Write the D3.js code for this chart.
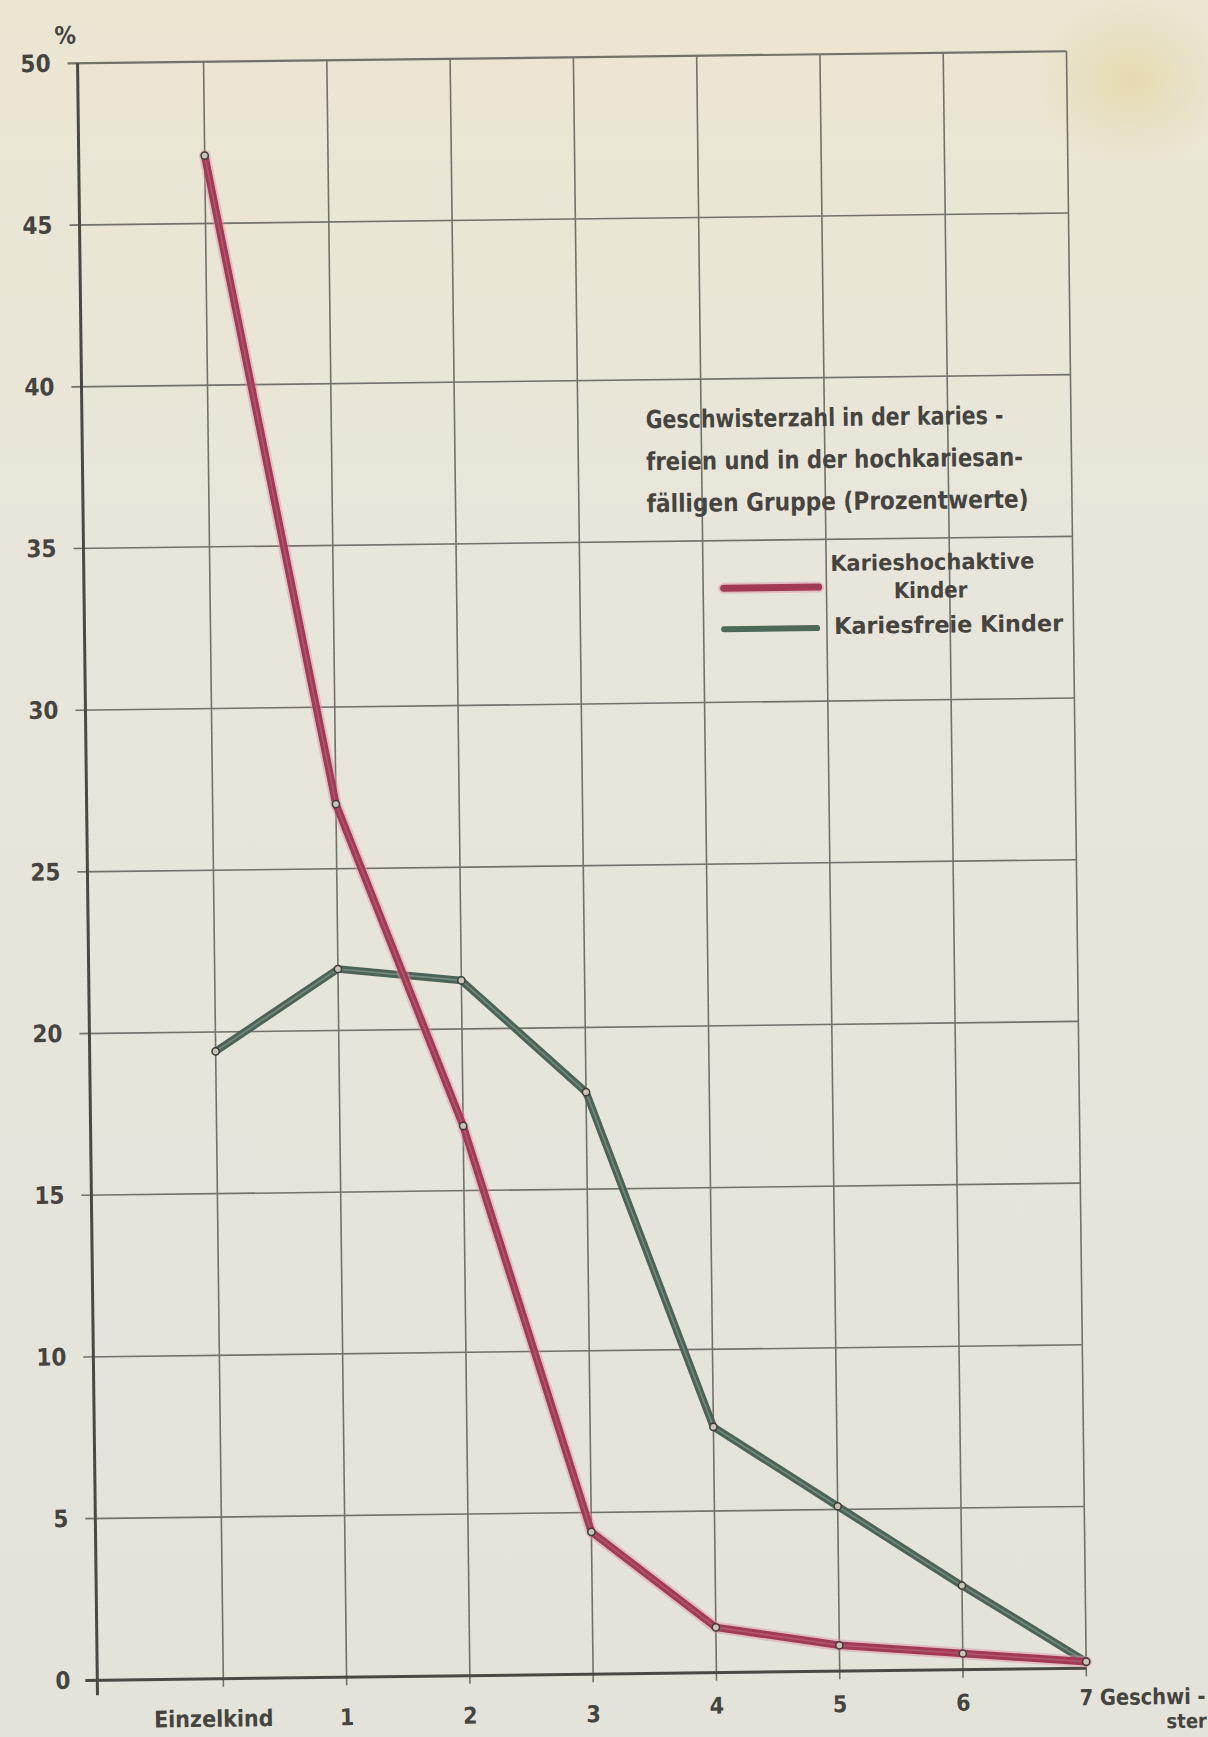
<!DOCTYPE html>
<html lang="de">
<head>
<meta charset="utf-8">
<title>Geschwisterzahl und Kariesbefall</title>
<script src="https://cdn.jsdelivr.net/npm/d3@7"></script>
<style>
  html, body { margin: 0; padding: 0; background: #e5e3d8; }
  svg { display: block; }
  .lbl { font-family: "DejaVu Sans Condensed", "DejaVu Sans", sans-serif; font-stretch: condensed; font-weight: bold; fill: #45443f; }
</style>
</head>
<body>
<svg id="chart" width="1208" height="1737"></svg>
<script>
// Categories: number of siblings
const categories = ["Einzelkind", "1", "2", "3", "4", "5", "6", "7"];
const xTickLabels = ["Einzelkind", "1", "2", "3", "4", "5", "6", "7 Geschwi -"];
const xUnitTail = "ster";

// Percentages per group
const kariesHochaktiv = [47.1, 27.0, 17.0, 4.4, 1.4, 0.8, 0.5, 0.2];
const kariesFrei      = [19.4, 21.9, 21.5, 18.0, 7.6, 5.1, 2.6, 0.2];

// Value axis ticks
const yTicks = [0, 5, 10, 15, 20, 25, 30, 35, 40, 45, 50];

const titleLines = [
  "Geschwisterzahl in der karies -",
  "freien und in der hochkariesan-",
  "fälligen Gruppe (Prozentwerte)"
];
const seriesNames = ["Karieshochaktive", "Kinder", "Kariesfreie Kinder"];

const W = 1208, H = 1737;
const L = 87.4, R = 1076.4, T = 57.25, B = 1674.25;
const cx = (L + R) / 2, cy = (T + B) / 2;

const svg = d3.select("#chart").attr("viewBox", `0 0 ${W} ${H}`);

// paper background
const defs = svg.append("defs");
const lg = defs.append("linearGradient").attr("id", "paper").attr("x1", 0).attr("y1", 0).attr("x2", 0).attr("y2", 1);
lg.append("stop").attr("offset", "0%").attr("stop-color", "#ebe6d2");
lg.append("stop").attr("offset", "30%").attr("stop-color", "#e8e6da");
lg.append("stop").attr("offset", "100%").attr("stop-color", "#e3e3da");
const stain = defs.append("radialGradient").attr("id", "stain");
stain.append("stop").attr("offset", "0%").attr("stop-color", "#e4d6a6").attr("stop-opacity", 0.75);
stain.append("stop").attr("offset", "100%").attr("stop-color", "#e4d6a6").attr("stop-opacity", 0);

svg.append("rect").attr("width", W).attr("height", H).attr("fill", "url(#paper)");
svg.append("ellipse").attr("cx", 1130).attr("cy", 80).attr("rx", 100).attr("ry", 85).attr("fill", "url(#stain)");

// the sheet sits slightly tilted
const g = svg.append("g").attr("transform", `rotate(-0.7 ${cx} ${cy})`);

const x = d3.scalePoint().domain(categories).range([L + 126, R]);
const y = d3.scaleLinear().domain([0, 50]).range([B, T]);

const gridColor = "#72716a";

// horizontal grid lines (with short ticks left of the axis)
g.append("g").selectAll("line").data(yTicks.filter(d => d > 0)).join("line")
  .attr("x1", L - 10).attr("x2", R)
  .attr("y1", d => y(d)).attr("y2", d => y(d))
  .attr("stroke", gridColor)
  .attr("stroke-width", d => d === 50 ? 2.2 : 1.6);

// vertical grid lines at each category, reaching below the base line
g.append("g").selectAll("line").data(categories).join("line")
  .attr("x1", d => x(d)).attr("x2", d => x(d))
  .attr("y1", y(50)).attr("y2", y(0) + 8)
  .attr("stroke", gridColor)
  .attr("stroke-width", 1.6);

// main axes
g.append("line").attr("x1", L).attr("x2", L).attr("y1", y(50)).attr("y2", y(0) + 15)
  .attr("stroke", "#4a4944").attr("stroke-width", 3);
g.append("line").attr("x1", L - 12).attr("x2", R).attr("y1", y(0)).attr("y2", y(0))
  .attr("stroke", "#4a4944").attr("stroke-width", 3);

// y axis labels
const yAxis = g.append("g").attr("transform", `translate(${L},0)`)
  .call(d3.axisLeft(y).tickValues(yTicks).tickSize(0).tickPadding(27).tickFormat(d3.format("d")));
yAxis.select(".domain").remove();
yAxis.attr("font-family", null).attr("font-size", null);
yAxis.selectAll("text").attr("class", "lbl").attr("font-size", 24).attr("fill", null);

g.append("text").attr("class", "lbl").attr("x", L - 12).attr("y", y(50) - 20)
  .attr("text-anchor", "middle").attr("font-size", 24).text("%");

// x axis labels
const last = categories.length - 1;
g.append("g").selectAll("text").data(categories).join("text")
  .attr("class", "lbl")
  .attr("x", (d, i) => i === 0 ? x(d) - 10 : (i === last ? x(d) - 7 : x(d)))
  .attr("y", (d, i) => y(0) + (i < 4 ? 48 : (i === last ? 37 : 41)))
  .attr("text-anchor", (d, i) => i === last ? "start" : "middle")
  .attr("font-size", (d, i) => i === last ? 22 : 23)
  .each(function (d, i) {
    if (i === last) d3.select(this).attr("textLength", 126).attr("lengthAdjust", "spacingAndGlyphs");
  })
  .text((d, i) => xTickLabels[i]);
g.append("text").attr("class", "lbl")
  .attr("x", x(categories[last]) + 120).attr("y", y(0) + 61)
  .attr("text-anchor", "end").attr("font-size", 20).text(xUnitTail);

// series lines
const line = d3.line().x((d, i) => x(categories[i])).y(d => y(d));

function drawSeries(values, o) {
  const s = g.append("g");
  if (o.halo) s.append("path").datum(values).attr("d", line).attr("fill", "none")
    .attr("stroke", o.halo).attr("stroke-width", o.width + 4).attr("stroke-opacity", 0.45)
    .attr("stroke-linejoin", "round").attr("stroke-linecap", "round");
  s.append("path").datum(values).attr("d", line).attr("fill", "none")
    .attr("stroke", o.color).attr("stroke-width", o.width)
    .attr("stroke-linejoin", "round").attr("stroke-linecap", "round");
  s.append("path").datum(values).attr("d", line).attr("fill", "none")
    .attr("stroke", o.inner).attr("stroke-width", 1.6).attr("stroke-opacity", 0.5)
    .attr("stroke-linejoin", "round");
  s.selectAll("circle").data(values).join("circle")
    .attr("cx", (d, i) => x(categories[i])).attr("cy", d => y(d))
    .attr("r", 3.6).attr("fill", "#c9c4b6").attr("stroke", "#3e3b38").attr("stroke-width", 1.5);
}

drawSeries(kariesFrei, { color: "#4b6457", inner: "#9fb0a4", width: 7.5 });
drawSeries(kariesHochaktiv, { color: "#a03a55", inner: "#c86f86", halo: "#d98fa2", width: 7.5 });

// title block
g.append("g").selectAll("text").data(titleLines).join("text")
  .attr("class", "lbl")
  .attr("x", 651).attr("y", (d, i) => 429 + i * 42)
  .attr("font-size", 25)
  .attr("textLength", (d, i) => [358, 377, 382][i])
  .attr("lengthAdjust", "spacingAndGlyphs")
  .text(d => d);

// legend
g.append("line").attr("x1", 727).attr("x2", 822).attr("y1", 590).attr("y2", 590)
  .attr("stroke", "#d98fa2").attr("stroke-width", 11).attr("stroke-opacity", 0.45).attr("stroke-linecap", "round");
g.append("line").attr("x1", 727).attr("x2", 822).attr("y1", 590).attr("y2", 590)
  .attr("stroke", "#a03a55").attr("stroke-width", 7).attr("stroke-linecap", "round");
g.append("line").attr("x1", 727).attr("x2", 820).attr("y1", 631).attr("y2", 631)
  .attr("stroke", "#4d6a58").attr("stroke-width", 6).attr("stroke-linecap", "round");

g.append("text").attr("class", "lbl").attr("x", 834).attr("y", 574).attr("font-size", 22)
  .attr("textLength", 204).attr("lengthAdjust", "spacingAndGlyphs").text(seriesNames[0]);
g.append("text").attr("class", "lbl").attr("x", 934).attr("y", 602).attr("font-size", 22)
  .attr("text-anchor", "middle").text(seriesNames[1]);
g.append("text").attr("class", "lbl").attr("x", 837).attr("y", 637).attr("font-size", 23)
  .attr("textLength", 229).attr("lengthAdjust", "spacingAndGlyphs").text(seriesNames[2]);
</script>
</body>
</html>
